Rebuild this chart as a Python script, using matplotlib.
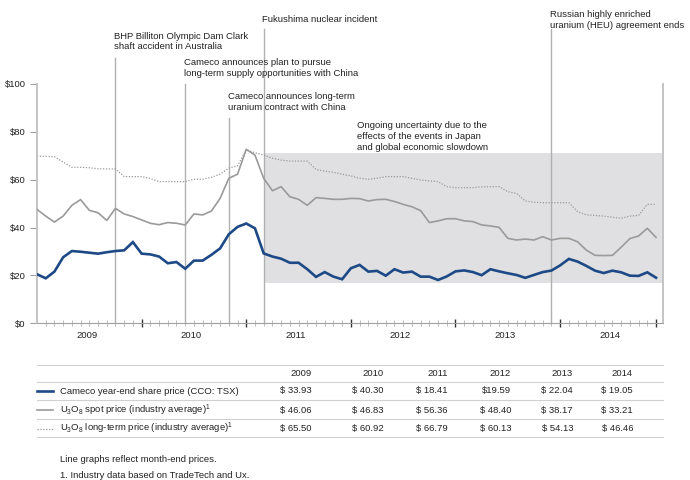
import matplotlib
matplotlib.use("Agg")
import matplotlib.pyplot as plt
import matplotlib.transforms as mtransforms
from matplotlib.lines import Line2D
import numpy as np

plt.rcParams['font.family'] = ['Liberation Sans', 'DejaVu Sans']
plt.rcParams['mathtext.fontset'] = 'custom'
plt.rcParams['mathtext.rm'] = 'Liberation Sans'
plt.rcParams['mathtext.it'] = 'Liberation Sans:italic'
plt.rcParams['mathtext.bf'] = 'Liberation Sans:bold'

# ---------------- data (month-end, Jan 2009 .. Dec 2014) ----------------
years = [2009, 2010, 2011, 2012, 2013, 2014]
months = np.arange(72)

share_price = [20.5, 18.8, 21.6, 27.6, 30.2, 29.9, 29.5, 29.1, 29.7, 30.2, 30.5, 33.93,
               29.1, 28.8, 27.9, 25.1, 25.6, 22.8, 26.2, 26.2, 28.6, 31.3, 37.2, 40.30,
               41.7, 39.7, 29.2, 27.9, 27.0, 25.3, 25.3, 22.6, 19.4, 21.4, 19.5, 18.41,
               23.0, 24.4, 21.6, 21.9, 19.9, 22.6, 21.2, 21.6, 19.5, 19.5, 18.1, 19.59,
               21.7, 22.1, 21.4, 20.1, 22.6, 21.7, 20.9, 20.2, 19.0, 20.2, 21.4, 22.04,
               24.2, 26.9, 25.8, 24.0, 22.0, 21.0, 22.0, 21.3, 19.9, 19.8, 21.3, 19.05]

spot_price = [47.6, 44.8, 42.3, 44.8, 49.3, 51.7, 47.2, 46.2, 43.0, 48.0, 45.7, 44.6,
              43.2, 41.8, 41.2, 42.1, 41.8, 41.1, 45.7, 45.3, 46.9, 52.2, 60.6, 62.3,
              72.7, 70.3, 60.6, 55.4, 57.1, 52.9, 51.8, 49.3, 52.5, 52.2, 51.8, 51.8,
              52.2, 52.1, 51.1, 51.7, 51.8, 50.9, 49.7, 48.7, 47.1, 42.1, 42.8, 43.7,
              43.7, 42.8, 42.5, 41.1, 40.7, 40.1, 35.5, 34.8, 35.2, 34.8, 36.2, 34.8,
              35.5, 35.5, 34.1, 30.6, 28.4, 28.3, 28.4, 31.8, 35.4, 36.5, 39.7, 35.9]

longterm_price = [69.8, 69.8, 69.6, 67.4, 65.2, 65.2, 65.0, 64.6, 64.5, 64.5, 61.3, 61.3,
                  61.3, 60.5, 59.2, 59.2, 59.2, 59.2, 60.2, 60.2, 61.0, 62.3, 64.8, 65.8,
                  72.5, 71.3, 70.3, 69.0, 68.2, 67.8, 67.8, 67.8, 64.3, 63.6, 63.1, 62.3,
                  61.6, 60.6, 60.2, 60.6, 61.3, 61.3, 61.3, 60.6, 59.9, 59.5, 59.2, 57.1,
                  56.7, 56.7, 56.7, 57.0, 57.1, 57.1, 55.0, 54.3, 51.1, 50.6, 50.4, 50.4,
                  50.4, 50.4, 46.7, 45.3, 45.1, 44.8, 44.3, 43.9, 44.8, 45.1, 49.7, 49.7]

yticks = [0, 20, 40, 60, 80, 100]
ytick_labels = ['$0', '$20', '$40', '$60', '$80', '$100']

# events: (month index, label)
event_months = [9, 17, 22, 26, 59]
event_labels = ["BHP Billiton Olympic Dam Clark\nshaft accident in Australia",
                "Cameco announces plan to pursue\nlong-term supply opportunities with China",
                "Cameco announces long-term\nuranium contract with China",
                "Fukushima nuclear incident",
                "Russian highly enriched\nuranium (HEU) agreement ends"]
shade_label = "Ongoing uncertainty due to the\neffects of the events in Japan\nand global economic slowdown"

# table
table_years = ['2009', '2010', '2011', '2012', '2013', '2014']
row_labels = ["Cameco year-end share price (CCO: TSX)",
              r"U$_3$O$_8$ spot price (industry average)$^1$",
              r"U$_3$O$_8$ long-term price (industry average)$^1$"]
row_values = [["$ 33.93", "$ 40.30", "$ 18.41", "$19.59", "$ 22.04", "$ 19.05"],
              ["$ 46.06", "$ 46.83", "$ 56.36", "$ 48.40", "$ 38.17", "$ 33.21"],
              ["$ 65.50", "$ 60.92", "$ 66.79", "$ 60.13", "$ 54.13", "$ 46.46"]]
footnotes = ["Line graphs reflect month-end prices.",
             "1. Industry data based on TradeTech and Ux."]

# ---------------- style ----------------
W, H = 690, 480
BLUE = '#1d4a86'
GRAY = '#9a9a9a'
EVENT_GRAY = '#b0b0b0'
TEXT = '#222222'
SHADE = '#e0e0e2'
FS = 6.8
FS_NOTE = 6.8

def fy(py):
    return 1 - py / H

fig = plt.figure(figsize=(W / 100, H / 100), dpi=100)
ax_left, ax_right, ax_top, ax_bot = 37, 663, 84, 323.3
ax = fig.add_axes([ax_left / W, fy(ax_bot), (ax_right - ax_left) / W, (ax_bot - ax_top) / H])
ax.set_xlim(0, 71.8)
ax.set_ylim(0, 100)

# shaded region (from Fukushima to end)
shade_lo, shade_hi = 17, 71
ax.fill_between([event_months[3], 71.8], shade_lo, shade_hi, color=SHADE, lw=0, zorder=0)

# event lines
event_tops = [111, 100, 86, 123, 123]
for m, top in zip(event_months, event_tops):
    ax.plot([m, m], [0, top], color=EVENT_GRAY, lw=1.0, clip_on=False, zorder=1)

# series
ax.plot(months, longterm_price, color=GRAY, lw=0.9, ls=(0, (1, 1.3)), zorder=2)
ax.plot(months, spot_price, color=GRAY, lw=1.2, zorder=3)
ax.plot(months, share_price, color=BLUE, lw=1.9, zorder=4, solid_joinstyle='miter')

# axes styling
ax.spines['top'].set_visible(False)
ax.spines['left'].set_color('#c4c4c4')
ax.spines['left'].set_linewidth(1.4)
ax.spines['right'].set_color('#c4c4c4')
ax.spines['right'].set_linewidth(1.4)
ax.spines['bottom'].set_color('#a0a0a0')
ax.spines['bottom'].set_linewidth(0.8)

ax.set_yticks(yticks)
ax.set_yticklabels(ytick_labels, fontsize=FS, color=TEXT)
ax.tick_params(axis='y', direction='out', length=5, width=0.8, color='#a0a0a0', pad=3)

major_x = [12, 24, 36, 48, 60, 71]
minor_x = [m for m in range(1, 71) if m not in major_x]
ax.set_xticks(major_x)
ax.set_xticklabels([])
ax.set_xticks(minor_x, minor=True)
ax.tick_params(axis='x', which='major', direction='inout', length=6, width=1.0, color='#333333')
ax.tick_params(axis='x', which='minor', direction='inout', length=4, width=0.6, color='#b0b0b0')

for k, yr in enumerate(years):
    ax.text(12 * k + 5.7, -4.9, str(yr), ha='center', va='center', fontsize=FS,
            color=TEXT, clip_on=False)

# annotation texts
blend = mtransforms.blended_transform_factory(ax.transData, fig.transFigure)
label_centers_px = [41.5, 68.3, 102.2, 20.0, 19.8]
for m, lab, cy in zip(event_months, event_labels, label_centers_px):
    ax.text(m - 0.15, fy(cy), lab, transform=blend, ha='left', va='center',
            fontsize=FS_NOTE, color=TEXT, linespacing=1.25, clip_on=False)
ax.text(36.7, fy(136.7), shade_label, transform=blend, ha='left', va='center',
        fontsize=FS_NOTE, color=TEXT, linespacing=1.25, clip_on=False)

# ---------------- table ----------------
tblend = mtransforms.blended_transform_factory(ax.transAxes, fig.transFigure)
rule_y = [365, 382, 400, 419, 437]
for ry in rule_y:
    fig.add_artist(Line2D([0, 1], [fy(ry), fy(ry)], transform=tblend, color='#d0d0d0', lw=0.8))

col_right_px = [312, 384, 448, 511, 573, 633]
header_y = 373.5
for cx, yr in zip(col_right_px, table_years):
    fig.text(cx / W, fy(header_y), yr, ha='right', va='center', fontsize=FS, color=TEXT)

row_y = [391, 410, 428.5]
legend_styles = [dict(color=BLUE, lw=1.9, ls='-'),
                 dict(color=GRAY, lw=1.2, ls='-'),
                 dict(color=GRAY, lw=0.9, ls=(0, (1, 1.3)))]
for ry, lab, vals, st in zip(row_y, row_labels, row_values, legend_styles):
    fig.add_artist(Line2D([37 / W, 53 / W], [fy(ry), fy(ry)], **st))
    fig.text(60 / W, fy(ry), lab, ha='left', va='center', fontsize=FS, color=TEXT)
    for cx, v in zip(col_right_px, vals):
        fig.text(cx / W, fy(ry), v, ha='right', va='center', fontsize=FS, color=TEXT)

for ty, t in zip([459, 475], footnotes):
    fig.text(60 / W, fy(ty), t, ha='left', va='center', fontsize=FS, color=TEXT)

fig.savefig('out.png', dpi=100, facecolor='white')
